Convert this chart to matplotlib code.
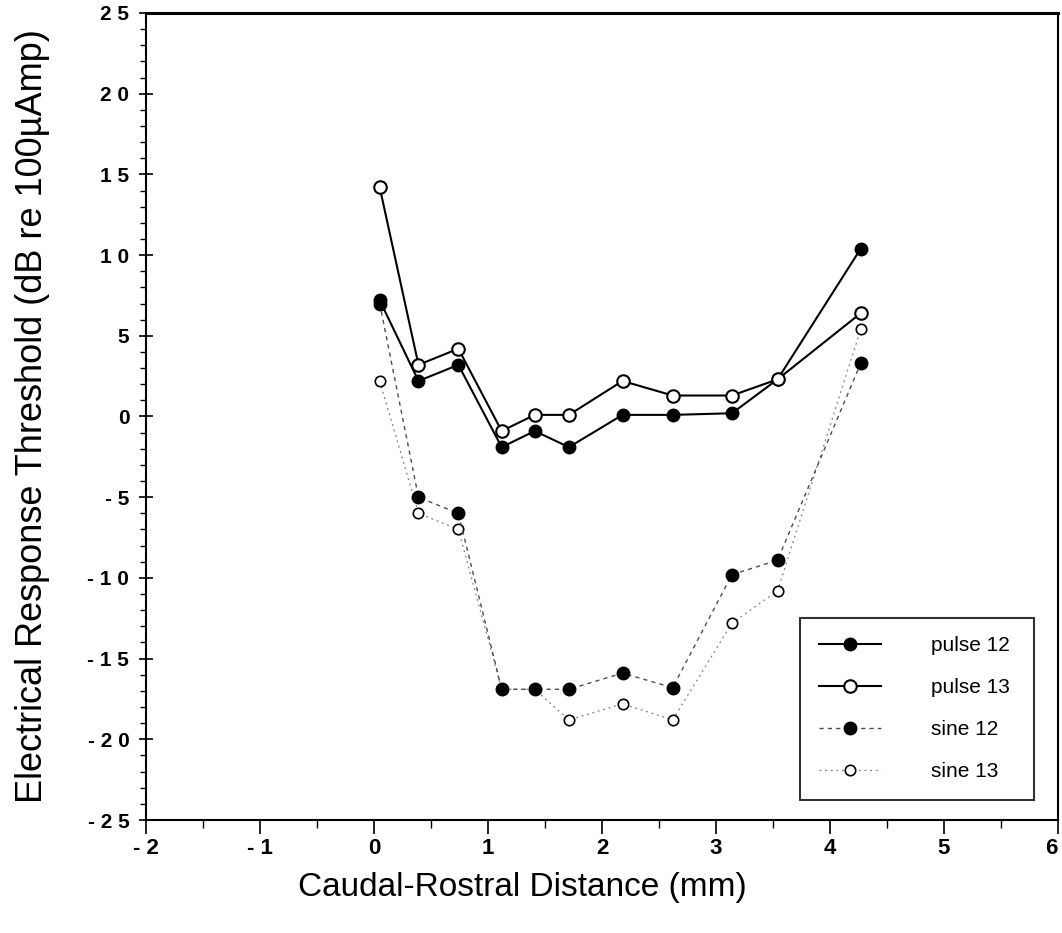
import numpy as np
import matplotlib
matplotlib.use('Agg')
import matplotlib.pyplot as plt
from matplotlib.ticker import MultipleLocator

plt.rcParams['font.family'] = ['Liberation Sans', 'DejaVu Sans']

# ============================================
# Data
# ============================================
dist = [0.05, 0.39, 0.74, 1.12, 1.41, 1.71, 2.18, 2.62, 3.14, 3.54, 4.27]
pulse12 = [7.2, 2.2, 3.2, -1.9, -0.9, -1.9, 0.1, 0.1, 0.2, 2.3, 10.4]
pulse13 = [14.2, 3.2, 4.2, -0.9, 0.1, 0.1, 2.2, 1.3, 1.3, 2.3, 6.4]
sine12 = [7.0, -5.0, -6.0, -16.9, -16.9, -16.9, -15.9, -16.8, -9.8, -8.9, 3.3]
sine13 = [2.2, -6.0, -7.0, -16.9, -16.9, -18.8, -17.8, -18.8, -12.8, -10.8, 5.4]

yticks = [25, 20, 15, 10, 5, 0, -5, -10, -15, -20, -25]
ytick_labels = ['2 5', '2 0', '1 5', '1 0', '5', '0', '- 5', '- 1 0', '- 1 5', '- 2 0', '- 2 5']
xticks = [-2, -1, 0, 1, 2, 3, 4, 5, 6]
xtick_labels = ['- 2', '- 1', '0', '1', '2', '3', '4', '5', '6']

fig = plt.figure(figsize=(10.62, 9.33), dpi=100)
ax = fig.add_axes([0.1375, 0.1211, 0.8587, 0.865])

# sine series first so the pulse lines sit on top
ax.plot(dist, sine13, linestyle=(0, (1.5, 3)), color='0.5', lw=0.9,
        marker='o', ms=7.5, mfc='white', mec='black', mew=1.2, label='sine 13')
ax.plot(dist, sine12, linestyle=(0, (3, 3)), color='0.3', lw=1.0,
        marker='o', ms=9, mfc='black', mec='black', label='sine 12')
ax.plot(dist, pulse12, '-', color='black', lw=1.5,
        marker='o', ms=9, mfc='black', mec='black', label='pulse 12')
ax.plot(dist, pulse13, '-', color='black', lw=1.5,
        marker='o', ms=9, mfc='white', mec='black', mew=1.5, label='pulse 13')

ax.set_xlim(-2, 6)
ax.set_ylim(-25, 25)

ax.set_yticks(yticks)
ax.set_yticklabels(ytick_labels, fontsize=15, fontweight='bold')
ax.yaxis.set_minor_locator(MultipleLocator(1))
ax.set_xticks(xticks)
ax.set_xticklabels(xtick_labels, fontsize=16, fontweight='bold')
ax.xaxis.set_minor_locator(MultipleLocator(0.5))
# last label would be cut by the figure edge
ax.get_xticklabels()[-1].set_horizontalalignment('right')

ax.tick_params(axis='y', which='major', direction='inout', length=10, width=1.2, pad=7)
ax.tick_params(axis='y', which='minor', direction='out', length=4, width=1.0)
ax.tick_params(axis='x', which='major', direction='out', length=10, width=1.2, pad=3)
ax.tick_params(axis='x', which='minor', direction='out', length=6, width=1.0)

for side in ['left', 'bottom', 'right']:
    ax.spines[side].set_linewidth(1.5)
ax.spines['top'].set_linewidth(2.2)

ax.set_xlabel('Caudal-Rostral Distance (mm)', fontsize=24)
ax.xaxis.set_label_coords(0.413, -0.064)
ax.set_ylabel('Electrical Response Threshold (dB re 100\u00b5Amp)', fontsize=26)
ax.yaxis.set_label_coords(-0.105, 0.5)

handles, labels = ax.get_legend_handles_labels()
order = [2, 3, 1, 0]
leg = ax.legend([handles[i] for i in order], [labels[i] for i in order],
                loc='lower left', bbox_to_anchor=(0.717, 0.025, 0.257, 0.223),
                mode='expand', fontsize=15, frameon=True, fancybox=False,
                handlelength=3.0, handletextpad=2.4, labelspacing=1.1,
                borderpad=0.9, borderaxespad=0)
leg.get_frame().set_edgecolor('black')
leg.get_frame().set_linewidth(1.5)

plt.savefig('out.png', dpi=100)
plt.close()
